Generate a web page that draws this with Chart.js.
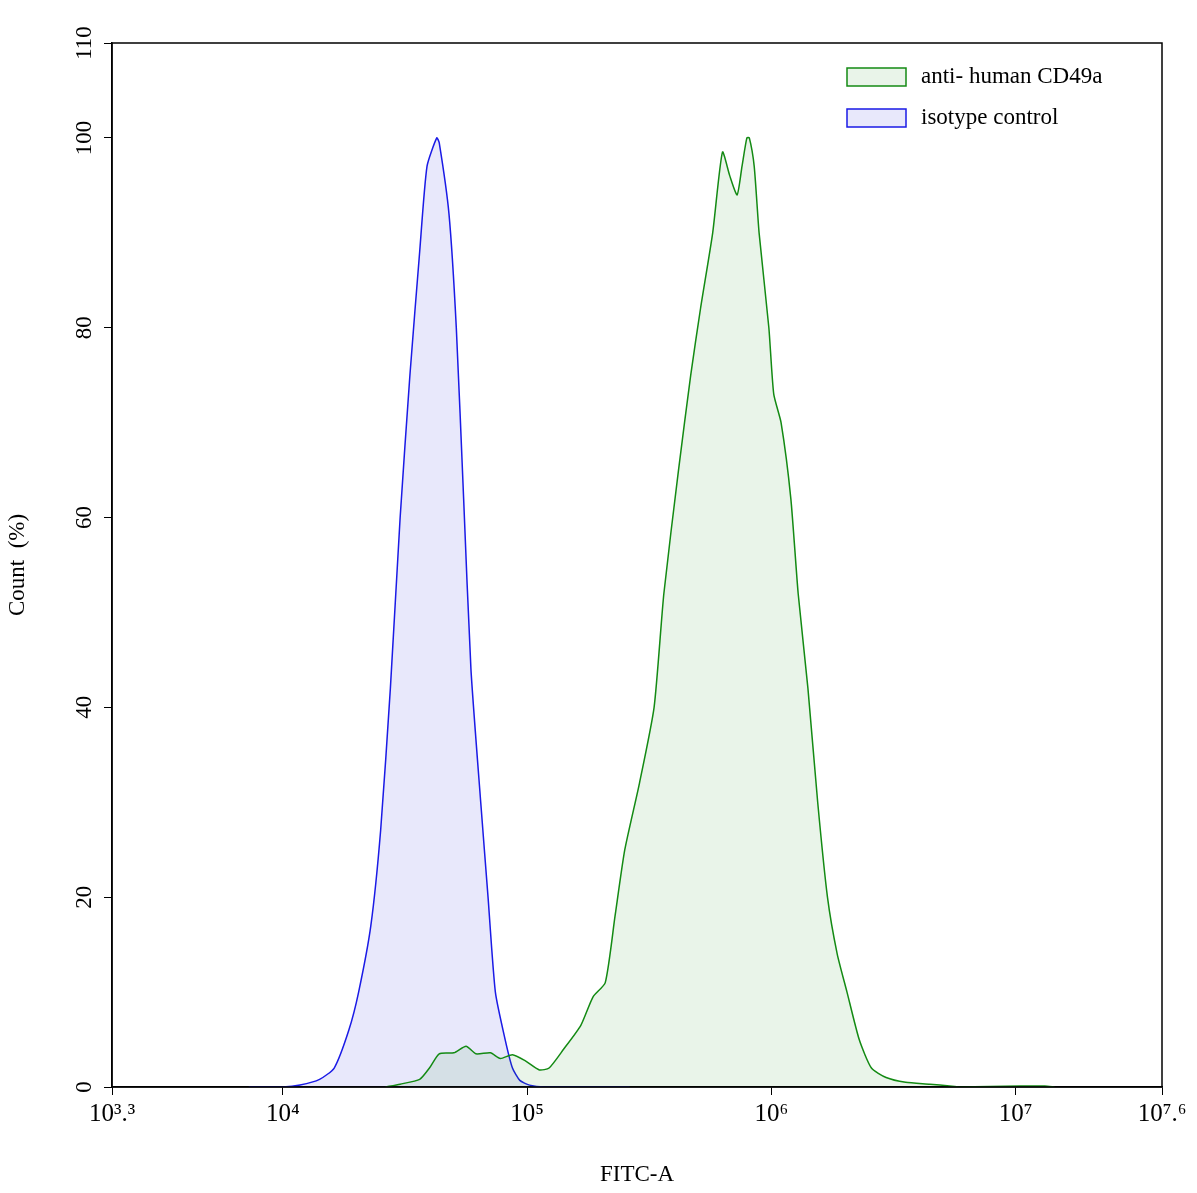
<!DOCTYPE html>
<html>
<head>
<script src="https://cdn.jsdelivr.net/npm/chart.js"></script>
<style>body{margin:0;background:#fff}</style>
</head>
<body>
<div style="width:1197px;height:1193px"><canvas id="c"></canvas></div>
<script>
// x values are log10(FITC-A)
var isoX = [3.86,4.0,4.07,4.15,4.21,4.27,4.31,4.36,4.40,4.44,4.48,4.52,4.56,4.59,4.63,4.64,4.68,4.71,4.74,4.77,4.81,4.84,4.87,4.91,4.94,4.97,5.01,5.07,5.42];
var isoY = [0,0,0.2,0.8,2,6,10,17,27,42,60,75,88,97,100,99.5,92,80,62,44,30,20,10,5,2,0.7,0.2,0,0];
var cdX = [4.42,4.48,4.56,4.60,4.64,4.70,4.75,4.79,4.85,4.89,4.94,4.99,5.05,5.09,5.15,5.22,5.27,5.32,5.36,5.40,5.46,5.52,5.56,5.62,5.67,5.71,5.76,5.80,5.83,5.86,5.88,5.90,5.91,5.93,5.95,5.99,6.01,6.04,6.08,6.11,6.15,6.19,6.23,6.27,6.31,6.36,6.41,6.47,6.55,6.65,6.73,6.77,7.02,7.12,7.16];
var cdY = [0,0.3,0.8,2,3.5,3.6,4.3,3.5,3.6,3,3.4,2.8,1.8,2,4,6.5,9.5,11,18,25,32,40,52,65,75,82,90,98.5,96,94,97,100,100,97,90,80,73,70,62,52,42,30,20,14,10,5,2,1,0.5,0.3,0.1,0,0.1,0.1,0];
var xTicks = [3.3,4,5,6,7,7.6];
var yTicks = [0,20,40,60,80,100,110];
var sup = {'0':'⁰','1':'¹','2':'²','3':'³','4':'⁴','5':'⁵','6':'⁶','7':'⁷','8':'⁸','9':'⁹','.':'.'};

function pts(xs, ys){ return xs.map(function(x,i){return {x:x,y:ys[i]};}); }
Chart.defaults.font.family = '"Liberation Serif", serif';
Chart.defaults.color = '#000';

var frame = {
  id:'frame',
  afterDraw: function(ch){
    var a = ch.chartArea, c = ch.ctx, ys = ch.scales.y;
    c.save();
    c.strokeStyle = '#000'; c.lineWidth = 1.5;
    c.strokeRect(a.left, a.top, a.right-a.left, a.bottom-a.top);
    // y tick labels, reading bottom to top
    c.font = '23px "Liberation Serif"'; c.fillStyle = '#000';
    c.textAlign = 'center'; c.textBaseline = 'middle';
    yTicks.forEach(function(v){
      c.save(); c.translate(85, ys.getPixelForValue(v)); c.rotate(-Math.PI/2);
      c.fillText(String(v), 0, 0); c.restore();
    });
    // legend
    c.textAlign = 'left';
    ch.data.datasets.forEach(function(d,i){
      var y = 77 + i*41;
      c.fillStyle = d.backgroundColor; c.fillRect(847, y-9, 59, 18);
      c.strokeStyle = d.borderColor; c.lineWidth = 1.5; c.strokeRect(847, y-9, 59, 18);
      c.fillStyle = '#000'; c.fillText(d.label, 921, y);
    });
    c.restore();
  }
};

new Chart(document.getElementById('c'), {
  type:'line',
  data:{datasets:[
    {label:'anti- human CD49a', data:pts(cdX,cdY), borderColor:'#138a13', backgroundColor:'rgba(40,150,40,0.1)', fill:'origin', borderWidth:1.5, pointRadius:0, tension:0.2},
    {label:'isotype control', data:pts(isoX,isoY), borderColor:'#1a1ae6', backgroundColor:'rgba(110,110,230,0.16)', fill:'origin', borderWidth:1.5, pointRadius:0, tension:0.2}
  ]},
  plugins:[frame],
  options:{
    responsive:true, maintainAspectRatio:false, animation:false,
    layout:{padding:{top:43,right:35,left:0,bottom:0}},
    plugins:{legend:{display:false}, tooltip:{enabled:false}},
    scales:{
      x:{type:'linear', min:3.3, max:7.6,
        afterBuildTicks:function(s){ s.ticks = xTicks.map(function(v){return {value:v};}); },
        afterFit:function(s){ s.height = 106; },
        grid:{drawOnChartArea:false, tickLength:8, tickColor:'#000'},
        border:{color:'#000', width:1.5},
        ticks:{font:{size:25}, padding:4, maxRotation:0,
          callback:function(v){ return '10' + String(v).split('').map(function(ch){return sup[ch];}).join(''); }},
        title:{display:true, text:'FITC-A', font:{size:23}, padding:{top:12}}
      },
      y:{min:0, max:110,
        afterBuildTicks:function(s){ s.ticks = yTicks.map(function(v){return {value:v};}); },
        afterFit:function(s){ s.width = 112; },
        grid:{drawOnChartArea:false, tickLength:8, tickColor:'#000'},
        border:{color:'#000', width:1.5},
        ticks:{display:false},
        title:{display:true, text:'Count  (%)', font:{size:23}, padding:{left:20}}
      }
    }
  }
});
</script>
</body>
</html>
